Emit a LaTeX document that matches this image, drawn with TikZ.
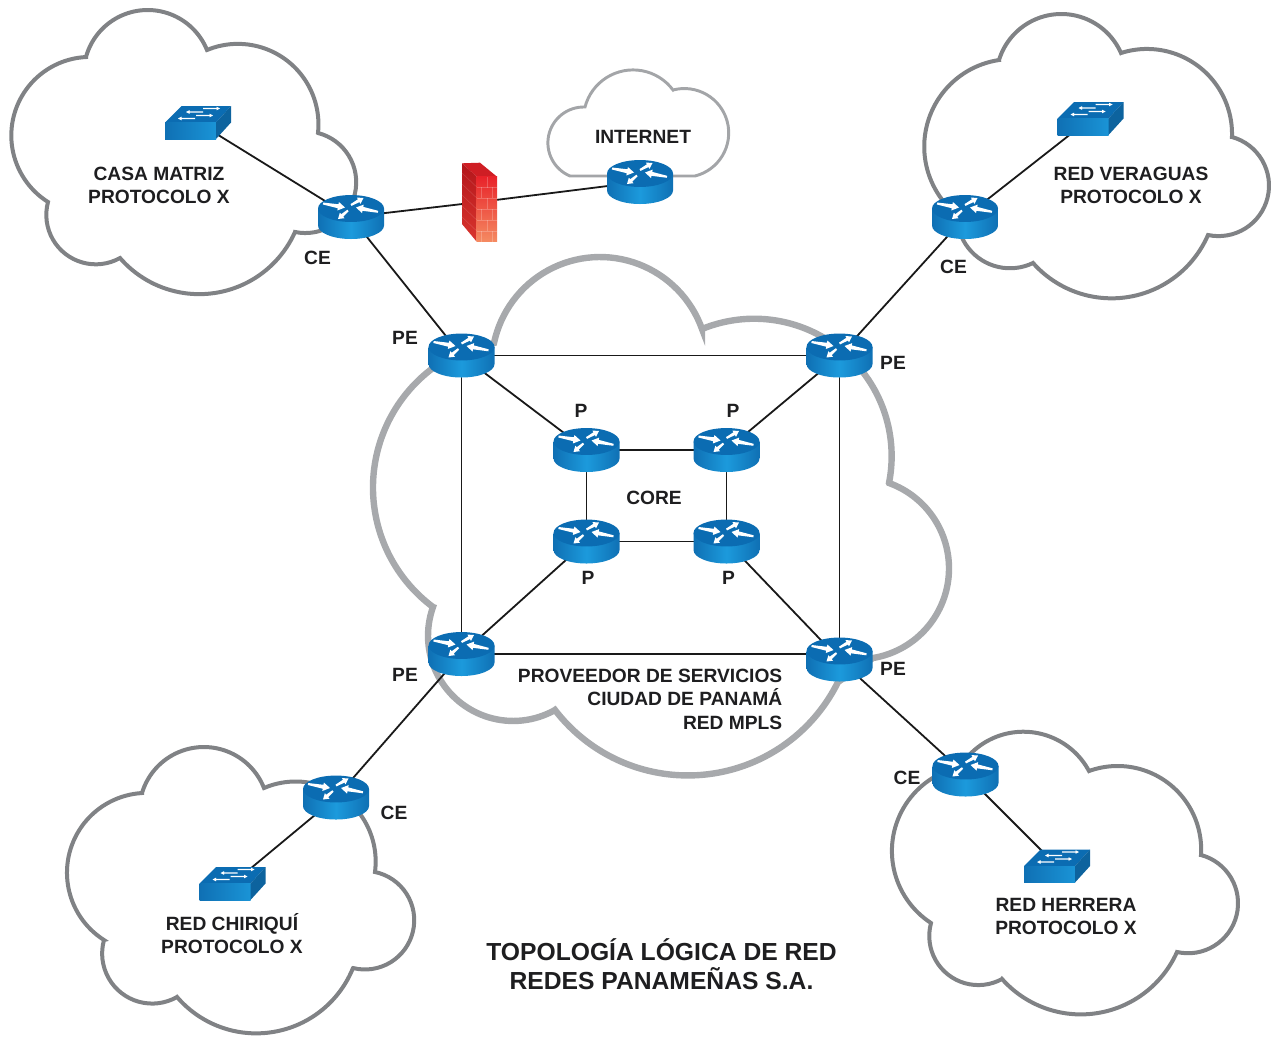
\documentclass[tikz,border=0pt]{standalone}
\usepackage{fontspec}
\setmainfont{Liberation Sans}
\usetikzlibrary{calc}
\pgfdeclarelayer{back}
\pgfsetlayers{back,main}
\definecolor{devtop}{HTML}{0B6CB2}
\definecolor{devdark}{HTML}{0F70B4}
\definecolor{devlight}{HTML}{1C9ADC}
\definecolor{inkk}{HTML}{1E1E20}
\definecolor{cloudgray}{HTML}{808285}
\definecolor{coregray}{HTML}{A7A9AC}
\definecolor{netgray}{HTML}{A3A5A8}
\definecolor{wallfronta}{HTML}{E8232A}
\definecolor{wallfrontb}{HTML}{EC3F2E}
\definecolor{wallfrontc}{HTML}{F58B62}
\definecolor{wallsidea}{HTML}{B3161B}
\definecolor{wallsideb}{HTML}{D9352E}
\definecolor{walltop}{HTML}{CF1E24}
\tikzset{
  cloudline/.style={draw=#1,line join=miter,miter limit=6,fill=none},
  outercloud/.style={cloudline=cloudgray,line width=3pt},
  corecloud/.style={cloudline=coregray,line width=4.8pt},
  netcloud/.style={cloudline=netgray,line width=2.2pt},
  link/.style={draw=black!90,line width=1.35pt},
  routerbox/.style={minimum width=49.5pt,minimum height=33pt,inner sep=0pt,outer sep=0pt},
  switchbox/.style={minimum width=49.5pt,minimum height=24.75pt,inner sep=0pt,outer sep=0pt},
  wallbox/.style={minimum width=26.25pt,minimum height=60pt,inner sep=0pt,outer sep=0pt},
  lbl/.style={font=\fontsize{14.4}{17.6}\selectfont\bfseries,text=inkk,inner sep=0pt,align=center},
  titlelbl/.style={font=\fontsize{18.5}{21.75}\selectfont\bfseries,text=inkk,inner sep=0pt,align=center}
}
% ---- cloud outlines: each lobe is a circular arc, clockwise on screen, through A, M, B
\newcommand\cloudstart[2]{\xdef\cpath{(#1,#2)}}
\newcommand\lobearc[6]{%
  \pgfmathsetmacro\qbx{(#3-(#1))/100}\pgfmathsetmacro\qby{(#4-(#2))/100}%
  \pgfmathsetmacro\qcx{(#5-(#1))/100}\pgfmathsetmacro\qcy{(#6-(#2))/100}%
  \pgfmathsetmacro\qd{2*(\qbx*\qcy-\qby*\qcx)}%
  \pgfmathsetmacro\qbb{\qbx*\qbx+\qby*\qby}\pgfmathsetmacro\qcc{\qcx*\qcx+\qcy*\qcy}%
  \pgfmathsetmacro\qux{(\qcy*\qbb-\qby*\qcc)/\qd}%
  \pgfmathsetmacro\quy{(\qbx*\qcc-\qcx*\qbb)/\qd}%
  \pgfmathsetmacro\qR{100*veclen(\qux,\quy)}%
  \pgfmathsetmacro\qCx{#1+100*\qux}\pgfmathsetmacro\qCy{#2+100*\quy}%
  \pgfmathsetmacro\qta{atan2(-\quy,-\qux)}%
  \pgfmathsetmacro\qtb{atan2(\qcy-\quy,\qcx-\qux)}%
  \pgfmathsetmacro\qsw{\qtb-\qta}%
  \pgfmathparse{\qsw<0?\qsw+360:\qsw}\let\qsw\pgfmathresult
  \pgfmathtruncatemacro\qN{ceil(\qsw/50)}%
  \pgfmathsetmacro\qdt{\qsw/\qN}%
  \pgfmathsetmacro\qk{1.33333*tan(\qdt/4)*\qR}%
  \xdef\cpath{\cpath -- (#1,#2)}%
  \foreach \qi in {1,...,\qN}{%
    \pgfmathsetmacro\qto{\qta+(\qi-1)*\qdt}%
    \pgfmathsetmacro\qtn{\qta+\qi*\qdt}%
    \pgfmathsetmacro\qax{\qCx+\qR*cos(\qto)-\qk*sin(\qto)}%
    \pgfmathsetmacro\qay{\qCy+\qR*sin(\qto)+\qk*cos(\qto)}%
    \pgfmathsetmacro\qex{\qCx+\qR*cos(\qtn)+\qk*sin(\qtn)}%
    \pgfmathsetmacro\qey{\qCy+\qR*sin(\qtn)-\qk*cos(\qtn)}%
    \pgfmathsetmacro\qfx{\qCx+\qR*cos(\qtn)}%
    \pgfmathsetmacro\qfy{\qCy+\qR*sin(\qtn)}%
    \xdef\cpath{\cpath .. controls (\qax,\qay) and (\qex,\qey) .. (\qfx,\qfy)}%
  }}
% tapered white arrow: tail x,y  head x,y  tail half, neck half, head length, head half
\newcommand\whitearrow[8]{%
  \pgfmathsetmacro\rL{veclen(#3-(#1),#4-(#2))}%
  \pgfmathsetmacro\ux{(#3-(#1))/\rL}%
  \pgfmathsetmacro\uy{(#4-(#2))/\rL}%
  \pgfmathsetmacro\nx{#3-\ux*#7}%
  \pgfmathsetmacro\ny{#4-\uy*#7}%
  \fill[white] ({#1-\uy*#5},{#2+\ux*#5}) -- ({\nx-\uy*#6},{\ny+\ux*#6}) -- ({\nx-\uy*#8},{\ny+\ux*#8}) -- (#3,#4)
     -- ({\nx+\uy*#8},{\ny-\ux*#8}) -- ({\nx+\uy*#6},{\ny-\ux*#6}) -- ({#1+\uy*#5},{#2-\ux*#5}) -- cycle;}
\newcommand\routerdev[3]{%
  \node[routerbox] (#1) at (#2,#3) {};
  \begin{scope}[shift={(#2,#3)}]
    \shade[left color=devdark,right color=devdark,middle color=devlight]
      (-33,-8.5) -- (-33,8.5) .. controls (-33,15.96) and (-18.2,22) .. (0,22)
      .. controls (18.2,22) and (33,15.96) .. (33,8.5) -- (33,-8.5) -- cycle;
    \fill[devtop] (0,-8.5) ellipse [x radius=24.75pt,y radius=10.1pt];
    \begin{scope}[shift={(0,-8.5)}]
      \whitearrow{-28}{-5}{-6}{-1}{1}{2}{7}{4.3}
      \whitearrow{0}{-3.5}{12.5}{-10.5}{1}{1.6}{5.5}{3.6}
      \whitearrow{27}{3.3}{5}{-1}{1}{2}{7}{4.3}
      \whitearrow{-3}{2}{-13}{10.5}{1}{1.6}{5.5}{3.6}
    \end{scope}
  \end{scope}}
\newcommand\switchdev[3]{%
  \node[switchbox] (#1) at (#2,#3) {};
  \begin{scope}[shift={(#2,#3)}]
    \fill[devtop] (-33,0) -- (-16.3,-16.5) -- (33,-16.5) -- (18,0) -- cycle;
    \shade[left color=devdark,right color=devlight!85!devdark] (-33,0) -- (18,0) -- (18,16.5) -- (-33,16.5) -- cycle;
    \fill[devdark!88!black] (18,0) -- (33,-16.5) -- (33,0) -- (18,16.5) -- cycle;
    \whitearrow{5}{-10.5}{-12}{-10.5}{0.55}{0.55}{3.5}{1.8}
    \whitearrow{5}{-14}{22}{-14}{0.55}{0.55}{3.5}{1.8}
    \whitearrow{-2}{-7}{15}{-7}{0.55}{0.55}{3.5}{1.8}
    \whitearrow{-3}{-4}{-20}{-4}{0.55}{0.55}{3.5}{1.8}
  \end{scope}}
\begin{document}
\begin{tikzpicture}[x=0.75pt,y=-0.75pt]
\useasboundingbox (0,0) rectangle (1280,1043);

% ---- devices
\routerdev{ceA}{351}{217}
\routerdev{inet}{640}{182}
\routerdev{ceB}{965}{217}
\routerdev{ceC}{336}{797.5}
\routerdev{ceD}{965.5}{774.5}
\routerdev{peA}{461.5}{355.5}
\routerdev{peB}{839.5}{355.5}
\routerdev{peC}{461.5}{654}
\routerdev{peD}{839.5}{659.5}
\routerdev{pA}{586.5}{450}
\routerdev{pB}{726.5}{450}
\routerdev{pC}{586.5}{541.5}
\routerdev{pD}{726.5}{541.5}
\switchdev{swA}{198}{122.5}
\switchdev{swB}{1090.5}{118.5}
\switchdev{swC}{232.5}{883.5}
\switchdev{swD}{1057}{866}

% ---- firewall
\node[wallbox] (wall) at (479.5,202) {};
\fill[walltop] (462,163.3) -- (480,162.7) -- (497,176.7) -- (476.7,176.7) -- cycle;
\shade[top color=wallsidea,bottom color=wallsideb] (462,163.3) -- (476.7,176.7) -- (476.7,241.7) -- (462,224) -- cycle;
\shade[top color=wallfronta,middle color=wallfrontb,bottom color=wallfrontc] (476.7,176.7) -- (497,176.7) -- (497,241.7) -- (476.7,241.7) -- cycle;
\foreach \yy in {187,198,209,220,231}{
  \draw[white,opacity=.22,line width=.4pt] (476.7,\yy) -- (497,\yy);
  \draw[white,opacity=.14,line width=.4pt] (462,{\yy-14}) -- (476.7,\yy);}
\foreach \yy/\xx in {177/487,198/487,220/487,187/481,209/481,231/481,187/492,209/492,231/492}{
  \draw[white,opacity=.22,line width=.4pt] (\xx,\yy) -- (\xx,{\yy+10.8});}

% ---- clouds and connectors behind the devices
\begin{pgfonlayer}{back}
\cloudstart{48}{202}
\lobearc{48}{202}{12}{125}{86}{57}
\lobearc{86}{57}{147}{10}{207}{50}
\lobearc{207}{50}{290}{63}{318}{133}
\lobearc{318}{133}{356}{187}{295}{232}
\lobearc{295}{232}{205}{294}{120}{258}
\lobearc{120}{258}{62}{251}{48}{202}
\draw[outercloud] \cpath -- cycle;

\cloudstart{957}{215}
\lobearc{957}{215}{925}{135}{999}{60}
\lobearc{999}{60}{1060}{14}{1121}{53}
\lobearc{1121}{53}{1203}{70}{1232}{137}
\lobearc{1232}{137}{1269}{185}{1208}{235}
\lobearc{1208}{235}{1120}{298}{1033}{263}
\lobearc{1033}{263}{985}{262}{957}{215}
\draw[outercloud] \cpath -- cycle;

\cloudstart{104}{940}
\lobearc{104}{940}{67}{870}{142}{793}
\lobearc{142}{793}{205}{747}{264}{788}
\lobearc{264}{788}{343}{797}{375}{872}
\lobearc{375}{872}{414}{925}{353}{968}
\lobearc{353}{968}{265}{1033}{177}{997}
\lobearc{177}{997}{115}{987}{104}{940}
\draw[outercloud] \cpath -- cycle;

\cloudstart{931}{923}
\lobearc{931}{923}{892}{855}{960}{767}
\lobearc{960}{767}{1030}{732}{1089}{771}
\lobearc{1089}{771}{1173}{787}{1201}{855}
\lobearc{1201}{855}{1238}{905}{1177}{952}
\lobearc{1177}{952}{1090}{1014}{1002}{979}
\lobearc{1002}{979}{945}{972}{931}{923}
\draw[outercloud] \cpath -- cycle;

\cloudstart{433}{607}
\lobearc{433}{607}{373}{490}{460}{352}
\lobearc{494}{343}{600}{257}{702}{329}
\lobearc{702}{329}{835}{345}{889}{483}
\lobearc{889}{483}{949}{569}{873}{658}
\lobearc{838}{682}{700}{775}{555}{710}
\lobearc{555}{710}{465}{706}{433}{607}
\draw[corecloud] \cpath -- cycle;

\cloudstart{607}{176}
\lobearc{570}{176}{548}{140}{585}{107}
\lobearc{585}{107}{630}{70}{673}{90}
\lobearc{673}{90}{728}{125}{695}{176}
\draw[netcloud] \cpath -- cycle;

\draw[link] (swA.center) -- (ceA.center);
\draw[link] (ceA.center) -- (peA.center);
\draw[link] (ceA.center) -- (wall.center);
\draw[link] (wall.center) -- (inet.center);
\draw[link] (swB.center) -- (ceB.center);
\draw[link] (ceB.center) -- (peB.center);
\draw[link] (swC.center) -- (ceC.center);
\draw[link] (ceC.center) -- (peC.center);
\draw[link] (swD.center) -- (ceD.center);
\draw[link] (ceD.center) -- (peD.center);
\draw[link] (peA.center) -- (peB.center);
\draw[link] (peA.center) -- (peC.center);
\draw[link] (peB.center) -- (peD.center);
\draw[link] (peC.center) -- (peC.center -| peD.center);
\draw[link] (peA.center) -- (pA.center);
\draw[link] (peB.center) -- (pB.center);
\draw[link] (peC.center) -- (pC.center);
\draw[link] (peD.center) -- (pD.center);
\draw[link] (pA.center) -- (pB.center);
\draw[link] (pA.center) -- (pC.center);
\draw[link] (pB.center) -- (pD.center);
\draw[link] (pC.center) -- (pD.center);
\end{pgfonlayer}

% ---- labels
\node[lbl] (tA) at (159,185.5) {CASA MATRIZ\\PROTOCOLO X};
\node[lbl] (tB) at (1131,185.5) {RED VERAGUAS\\PROTOCOLO X};
\node[lbl] (tC) at (232,933.5) {RED CHIRIQUÍ\\PROTOCOLO X};
\node[lbl] (tD) at (1066,916.5) {RED HERRERA\\PROTOCOLO X};
\node[lbl] (tI) at (643,137) {INTERNET};
\node[lbl] (tCore) at (654,497.5) {CORE};
\node[lbl,align=right,anchor=east] (tProv) at (782.5,699) {PROVEEDOR DE SERVICIOS\\CIUDAD DE PANAMÁ\\RED MPLS};
\node[lbl] (l1) at (581,411) {P};
\node[lbl] (l2) at (733,411) {P};
\node[lbl] (l3) at (588,578) {P};
\node[lbl] (l4) at (728.5,578) {P};
\node[lbl] (l5) at (405,338) {PE};
\node[lbl] (l6) at (893,363) {PE};
\node[lbl] (l7) at (405,675) {PE};
\node[lbl] (l8) at (893,669) {PE};
\node[lbl] (l9) at (317.5,257.5) {CE};
\node[lbl] (l10) at (953.5,266.5) {CE};
\node[lbl] (l11) at (394,813) {CE};
\node[lbl] (l12) at (907,778) {CE};
\node[titlelbl] (title) at (661.5,964.5) {TOPOLOGÍA LÓGICA DE RED\\REDES PANAMEÑAS S.A.};
\end{tikzpicture}
\end{document}
